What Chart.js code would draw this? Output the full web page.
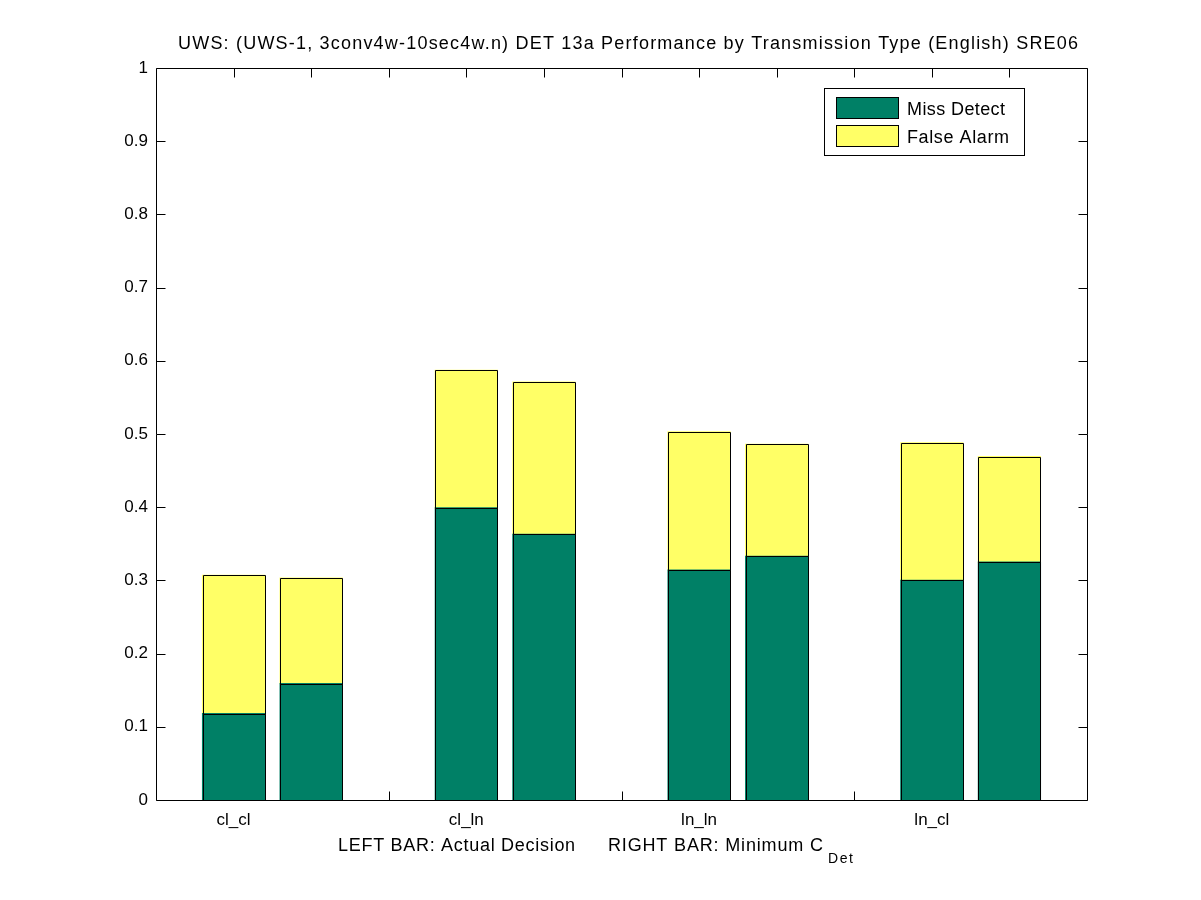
<!DOCTYPE html>
<html>
<head>
<meta charset="utf-8">
<script src="https://cdn.jsdelivr.net/npm/chart.js@4.4.0/dist/chart.umd.min.js"></script>
<style>
html,body{margin:0;padding:0;background:#fff;}
canvas{display:block;}
</style>
</head>
<body>
<canvas id="c" width="1201" height="900" style="width:1201px;height:900px"></canvas>
<script>
// ---------------- data ----------------
const chartTitle = 'UWS: (UWS-1, 3conv4w-10sec4w.n) DET 13a Performance by Transmission Type (English) SRE06';
const categories = ['cl_cl', 'cl_ln', 'ln_ln', 'ln_cl'];
const seriesNames = ['Miss Detect', 'False Alarm'];
// left bar = actual decision, right bar = minimum C_Det
const missActual = [0.118, 0.399, 0.314, 0.300];
const missMin    = [0.159, 0.363, 0.333, 0.325];
const faActual   = [0.189, 0.188, 0.189, 0.188];
const faMin      = [0.144, 0.208, 0.153, 0.144];
const yTickValues = [0, 0.1, 0.2, 0.3, 0.4, 0.5, 0.6, 0.7, 0.8, 0.9, 1];
const xLabelLeft = 'LEFT BAR: Actual Decision';
const xLabelRight = 'RIGHT BAR: Minimum C';
const xLabelSub = 'Det';

// ---------------- styling ----------------
const FONT = "'Liberation Sans', Arial, Helvetica, sans-serif";
const GREEN = 'rgb(0,128,102)';
const YELLOW = 'rgb(255,255,102)';
const TICK_LEN = 9;

// slot layout: group g -> left bar at 3g+1, right bar at 3g+2
const pos = (g, k) => 3 * g + 1 + k;
function buildSeries(actual, min) {
  const pts = [];
  categories.forEach((c, g) => {
    pts.push({x: pos(g, 0), y: actual[g]});
    pts.push({x: pos(g, 1), y: min[g]});
  });
  return pts;
}
const xTickValues = [];
for (let v = 1; v <= 3 * categories.length - 1; v++) xTickValues.push(v);
const xTickText = {};
categories.forEach((c, g) => { xTickText[pos(g, 0)] = c; });

function drawFitted(ctx, text, left, baseline, width) {
  ctx.letterSpacing = '0px';
  const w = ctx.measureText(text).width;
  const ls = (width - w) / Math.max(1, text.length - 1);
  ctx.letterSpacing = ls.toFixed(2) + 'px';
  ctx.textAlign = 'left';
  ctx.textBaseline = 'alphabetic';
  ctx.fillText(text, left, baseline);
  ctx.letterSpacing = '0px';
}

const matlabFrame = {
  id: 'matlabFrame',
  beforeDraw(chart) {
    const ctx = chart.ctx;
    ctx.save();
    ctx.fillStyle = '#fff';
    ctx.fillRect(0, 0, chart.width, chart.height);
    ctx.restore();
  },
  beforeDatasetsDraw(chart) {
    const {ctx, chartArea: a, scales: {x, y}} = chart;
    const L = Math.round(a.left) + 0.5, R = Math.round(a.right) + 0.5;
    const T = Math.round(a.top) + 0.5, B = Math.round(a.bottom) + 0.5;
    ctx.save();
    ctx.strokeStyle = '#000';
    ctx.lineWidth = 1;
    ctx.beginPath();
    ctx.moveTo(L, T); ctx.lineTo(R, T); ctx.lineTo(R, B); ctx.lineTo(L, B); ctx.closePath();
    yTickValues.forEach(v => {
      const py = Math.round(y.getPixelForValue(v)) + 0.5;
      ctx.moveTo(L, py); ctx.lineTo(L + TICK_LEN, py);
      ctx.moveTo(R, py); ctx.lineTo(R - TICK_LEN, py);
    });
    xTickValues.forEach(v => {
      const px = Math.round(x.getPixelForValue(v)) + 0.5;
      ctx.moveTo(px, B); ctx.lineTo(px, B - TICK_LEN);
      ctx.moveTo(px, T); ctx.lineTo(px, T + TICK_LEN);
    });
    ctx.stroke();
    ctx.restore();
  },
  afterDatasetsDraw(chart) {
    // crisp black outlines around each bar segment, taken from the library's bar elements
    const ctx = chart.ctx;
    ctx.save();
    ctx.strokeStyle = '#000';
    ctx.lineWidth = 1;
    ctx.beginPath();
    chart.data.datasets.forEach((ds, i) => {
      chart.getDatasetMeta(i).data.forEach(el => {
        const {x, y, base, width} = el.getProps(['x', 'y', 'base', 'width'], true);
        const l = Math.round(x - width / 2) + 0.5, r = Math.round(x + width / 2) + 0.5;
        const t = Math.round(Math.min(y, base)) + 0.5, b = Math.round(Math.max(y, base)) + 0.5;
        ctx.rect(l, t, r - l, b - t);
      });
    });
    ctx.stroke();
    ctx.restore();
  },
  afterDraw(chart) {
    const {ctx} = chart;
    ctx.save();
    ctx.fillStyle = '#000';
    // title
    ctx.font = '18px ' + FONT;
    drawFitted(ctx, chartTitle, 178, 49, 900);
    // x label with subscript
    drawFitted(ctx, xLabelLeft, 338, 851, 237);
    drawFitted(ctx, xLabelRight, 608, 851, 215);
    ctx.font = '14px ' + FONT;
    drawFitted(ctx, xLabelSub, 828, 863, 25);
    // legend
    const bx = 824.5, by = 88.5, bw = 200, bh = 67;
    ctx.fillStyle = '#fff';
    ctx.fillRect(bx, by, bw, bh);
    ctx.strokeStyle = '#000';
    ctx.lineWidth = 1;
    ctx.strokeRect(bx, by, bw, bh);
    const swatchTops = [97.5, 125.5];
    const baselines = [114.5, 142.5];
    const widths = [98, 102];
    chart.data.datasets.forEach((ds, i) => {
      ctx.fillStyle = ds.backgroundColor;
      ctx.fillRect(836.5, swatchTops[i], 62, 21);
      ctx.strokeRect(836.5, swatchTops[i], 62, 21);
      ctx.fillStyle = '#000';
      ctx.font = '18px ' + FONT;
      drawFitted(ctx, ds.label, 907, baselines[i], widths[i]);
    });
    ctx.restore();
  }
};

new Chart(document.getElementById('c'), {
  type: 'bar',
  data: {
    datasets: [
      {label: seriesNames[0], data: buildSeries(missActual, missMin), backgroundColor: GREEN,
       borderWidth: 0, inflateAmount: 0.6},
      {label: seriesNames[1], data: buildSeries(faActual, faMin), backgroundColor: YELLOW,
       borderWidth: 0, inflateAmount: 0.6}
    ]
  },
  options: {
    responsive: false,
    animation: false,
    devicePixelRatio: 1,
    barPercentage: 1,
    categoryPercentage: 0.8,
    layout: {padding: {left: 0, right: 114, top: 68, bottom: 0}},
    plugins: {legend: {display: false}, title: {display: false}, tooltip: {enabled: false}},
    scales: {
      x: {
        type: 'linear', stacked: true, offset: false, min: 0, max: 3 * categories.length,
        grid: {display: false, drawTicks: false}, border: {display: false},
        afterBuildTicks: s => { s.ticks = xTickValues.map(v => ({value: v})); },
        afterFit: s => { s.height = 100; },
        ticks: {
          autoSkip: false, maxRotation: 0, minRotation: 0, padding: 10,
          color: '#000', font: {family: FONT, size: 17},
          callback: v => xTickText[v] || ''
        }
      },
      y: {
        stacked: true, min: 0, max: 1,
        grid: {display: false, drawTicks: false}, border: {display: false},
        afterBuildTicks: s => { s.ticks = yTickValues.map(v => ({value: v})); },
        afterFit: s => { s.width = 156; },
        ticks: {
          padding: 8, color: '#000', font: {family: FONT, size: 17},
          callback: v => String(+(+v).toFixed(1))
        }
      }
    }
  },
  plugins: [matlabFrame]
});
</script>
</body>
</html>
